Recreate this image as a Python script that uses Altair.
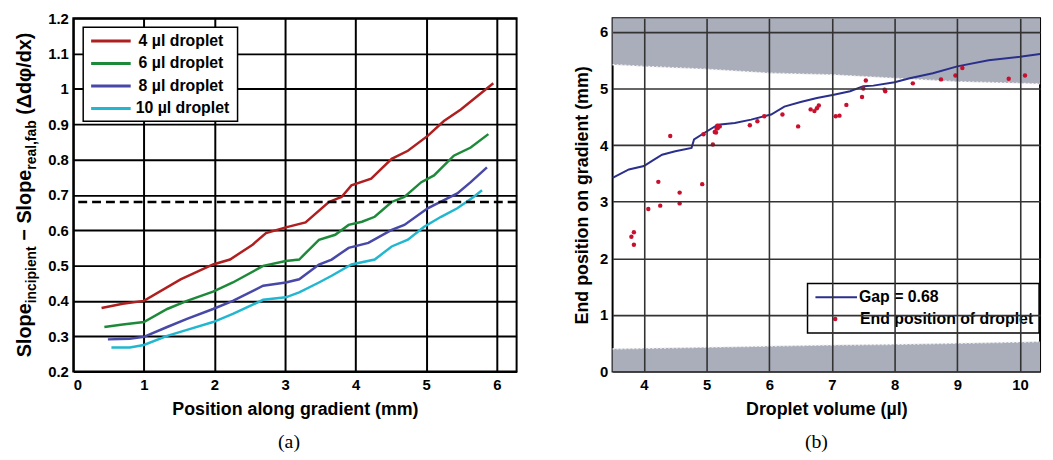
import altair as alt
import pandas as pd

FONT = "Liberation Sans"
SERIF = "Liberation Serif"

# ---------------- Panel (a) data ----------------
series_names = ["4 µl droplet", "6 µl droplet", "8 µl droplet", "10 µl droplet"]
series_colors = ["#b01f1f", "#1d8a3a", "#4848a8", "#22b7d0"]

pos_4 = [0.40, 0.70, 1.00, 1.52, 1.98, 2.22, 2.54, 2.73, 3.01, 3.29, 3.62, 3.80, 3.94, 4.22, 4.51, 4.74, 5.02, 5.25, 5.49, 5.95]
slope_4 = [0.380, 0.392, 0.400, 0.461, 0.503, 0.517, 0.559, 0.592, 0.608, 0.622, 0.680, 0.694, 0.727, 0.746, 0.802, 0.825, 0.867, 0.909, 0.942, 1.016]

pos_6 = [0.44, 0.70, 1.00, 1.33, 1.61, 1.98, 2.26, 2.69, 3.01, 3.20, 3.48, 3.71, 3.90, 4.09, 4.27, 4.51, 4.69, 4.93, 5.11, 5.39, 5.63, 5.88]
slope_6 = [0.326, 0.333, 0.340, 0.377, 0.400, 0.426, 0.452, 0.499, 0.513, 0.517, 0.573, 0.587, 0.615, 0.624, 0.638, 0.680, 0.694, 0.736, 0.755, 0.811, 0.834, 0.872]

pos_8 = [0.49, 0.80, 1.00, 1.33, 1.61, 1.98, 2.26, 2.69, 3.01, 3.20, 3.48, 3.66, 3.90, 4.18, 4.51, 4.69, 5.02, 5.25, 5.44, 5.63, 5.86]
slope_8 = [0.291, 0.293, 0.298, 0.326, 0.349, 0.377, 0.400, 0.443, 0.452, 0.461, 0.503, 0.517, 0.550, 0.564, 0.601, 0.615, 0.662, 0.685, 0.704, 0.736, 0.778]

pos_10 = [0.54, 0.80, 1.00, 1.33, 1.61, 1.98, 2.26, 2.69, 3.01, 3.20, 3.48, 3.66, 3.94, 4.27, 4.51, 4.74, 4.97, 5.21, 5.44, 5.67, 5.79]
slope_10 = [0.268, 0.268, 0.275, 0.301, 0.318, 0.340, 0.363, 0.403, 0.410, 0.424, 0.452, 0.471, 0.503, 0.517, 0.554, 0.573, 0.610, 0.638, 0.662, 0.694, 0.713]

gap_level = 0.68
x_ticks_a = [0, 1, 2, 3, 4, 5, 6]
y_ticks_a = [0.2, 0.3, 0.4, 0.5, 0.6, 0.7, 0.8, 0.9, 1.0, 1.1, 1.2]

# ---------------- Panel (b) data ----------------
vol_line = [3.50, 3.76, 4.00, 4.13, 4.29, 4.50, 4.76, 4.80, 5.00, 5.18, 5.45, 5.71, 6.03, 6.24, 6.50, 6.76, 7.03, 7.29, 7.50, 7.66, 8.00, 8.24, 8.61, 9.00, 9.50, 10.00, 10.32]
end_line = [3.42, 3.57, 3.63, 3.72, 3.83, 3.89, 3.95, 4.10, 4.24, 4.36, 4.39, 4.45, 4.54, 4.68, 4.76, 4.83, 4.89, 4.95, 5.04, 5.05, 5.11, 5.18, 5.27, 5.39, 5.50, 5.56, 5.61]

vol_pts = [3.80, 3.84, 3.84, 4.07, 4.23, 4.26, 4.42, 4.57, 4.57, 4.93, 4.95, 5.10, 5.13, 5.15, 5.16, 5.17, 5.18, 5.21,
           5.69, 5.81, 5.92, 6.21, 6.46, 6.66, 6.72, 6.76, 6.79, 7.06, 7.12, 7.23, 7.48, 7.50, 7.54, 7.84, 7.85,
           8.29, 8.74, 8.97, 9.08, 9.82, 10.08]
end_pts = [2.38, 2.46, 2.24, 2.87, 3.35, 2.93, 4.16, 3.16, 2.97, 3.31, 4.19, 4.01, 4.23, 4.22, 4.29, 4.34, 4.30, 4.33,
           4.35, 4.42, 4.51, 4.54, 4.33, 4.63, 4.60, 4.65, 4.70, 4.51, 4.52, 4.71, 4.85, 5.00, 5.14, 4.98, 4.95,
           5.09, 5.16, 5.23, 5.36, 5.17, 5.23]

band_vol = [3.5, 4.0, 5.0, 6.0, 7.0, 8.0, 9.0, 10.0, 10.32]
upper_edge = [5.42, 5.39, 5.34, 5.27, 5.24, 5.18, 5.12, 5.09, 5.08]
lower_edge = [0.40, 0.41, 0.43, 0.45, 0.47, 0.48, 0.50, 0.52, 0.53]

x_ticks_b = [4, 5, 6, 7, 8, 9, 10]
y_ticks_b = [0, 1, 2, 3, 4, 5, 6]
y_domain_b = [0, 6.24]
x_domain_b = [3.5, 10.32]

# ---------------- tables ----------------
frames = []
for name, xs, ys in zip(series_names, [pos_4, pos_6, pos_8, pos_10], [slope_4, slope_6, slope_8, slope_10]):
    frames.append(pd.DataFrame({"pos": xs, "slope": ys, "series": name}))
df_a = pd.concat(frames, ignore_index=True)

df_line = pd.DataFrame({"vol": vol_line, "end": end_line})
df_pts = pd.DataFrame({"vol": vol_pts, "end": end_pts})
df_band = pd.DataFrame({"vol": band_vol, "up": upper_edge, "low": lower_edge,
                        "top": y_domain_b[1], "bottom": y_domain_b[0]})
one = pd.DataFrame({"a": [0]})

W_A, H = 448, 357
W_B = 432

# ---------------- Panel (a) ----------------
xs_a = alt.Scale(domain=[0, 6.28], nice=False)
ys_a = alt.Scale(domain=[0.2, 1.2], nice=False)
axis_ya = alt.Axis(values=y_ticks_a, format=".1~f", title=None,
                   grid=True, gridColor="black", gridWidth=2, labelPadding=5)
x_a = alt.X("pos:Q", scale=xs_a,
            axis=alt.Axis(values=x_ticks_a, format="d", title="Position along gradient (mm)",
                          grid=True, gridColor="black", gridWidth=2, labelPadding=6, titlePadding=8))
y_a = alt.Y("slope:Q", scale=ys_a, axis=axis_ya)

lines_a = alt.Chart(df_a).mark_line(strokeWidth=2.5).encode(
    x=x_a, y=y_a,
    color=alt.Color("series:N", scale=alt.Scale(domain=series_names, range=series_colors), legend=None),
    detail="series:N",
)

gap_rule = alt.Chart(one).mark_rule(color="black", strokeWidth=2.5, strokeDash=[9, 5]).encode(
    y=alt.YDatum(gap_level, type="quantitative", scale=ys_a, axis=axis_ya)
)

legend_a = [alt.Chart(one).mark_rect(fill="white", stroke="black", strokeWidth=1.5).encode(
    x=alt.value(10), x2=alt.value(166), y=alt.value(9), y2=alt.value(104))]
for i, (name, col) in enumerate(zip(series_names, series_colors)):
    yy = 23 + i * 22.7
    legend_a.append(alt.Chart(one).mark_rule(color=col, strokeWidth=3).encode(
        x=alt.value(18), x2=alt.value(58), y=alt.value(yy)))
    legend_a.append(alt.Chart(one).mark_text(text=name, align="left", baseline="middle", font=FONT,
                                             fontWeight="bold", fontSize=16, color="black").encode(
        x=alt.value(66 if i < 3 else 63), y=alt.value(yy)))

# rotated y title with subscripts
pieces = [("Slope", 20, 0.0), ("incipient", 14, 54.5), ("−", 20, 117.7), ("Slope", 20, 135.0),
          ("real,fab", 14, 189.5), ("(Δdφ/dx)", 20, 244.9)]
title_bottom = 342.5
ytitle = []
for txt, fs, off in pieces:
    ytitle.append(alt.Chart(one).mark_text(text=txt, angle=270, align="left", baseline="alphabetic",
                                           font=FONT, fontWeight="bold", fontSize=fs, color="black").encode(
        x=alt.value(-43 if fs == 20 else -37.5), y=alt.value(title_bottom - off)))

left = alt.layer(lines_a, gap_rule, *legend_a, *ytitle).properties(
    width=W_A, height=H,
    title=alt.TitleParams("(a)", orient="bottom", anchor="middle", font=SERIF, fontSize=20,
                          fontWeight="normal", offset=14, dx=-6),
)

# ---------------- Panel (b) ----------------
xs_b = alt.Scale(domain=x_domain_b, nice=False)
ys_b = alt.Scale(domain=y_domain_b, nice=False)
axis_xb = alt.Axis(values=x_ticks_b, format="d", title="Droplet volume (µl)", grid=True,
                   gridColor="#333333", gridWidth=1.6, labelPadding=6, titlePadding=8, zindex=1)
axis_yb = alt.Axis(values=y_ticks_b, format="d", title="End position on gradient (mm)", grid=True,
                   gridColor="#333333", gridWidth=1.6, labelPadding=5, titlePadding=8, zindex=1)


def xb(field):
    return alt.X(field, scale=xs_b, axis=axis_xb)


def yb(field):
    return alt.Y(field, scale=ys_b, axis=axis_yb)


gray = "#aaaeba"
upper_band = alt.Chart(df_band).mark_area(color=gray, opacity=1).encode(
    x=xb("vol:Q"), y=yb("up:Q"), y2="top:Q")
lower_band = alt.Chart(df_band).mark_area(color=gray, opacity=1).encode(
    x=xb("vol:Q"), y=yb("bottom:Q"), y2="low:Q")
upper_edge_line = alt.Chart(df_band).mark_line(color="#f2f2f2", strokeWidth=1.5, strokeDash=[2, 2]).encode(
    x=xb("vol:Q"), y=yb("up:Q"))
lower_edge_line = alt.Chart(df_band).mark_line(color="#f2f2f2", strokeWidth=1.5, strokeDash=[2, 2]).encode(
    x=xb("vol:Q"), y=yb("low:Q"))

gap_line = alt.Chart(df_line).mark_line(color="#2b2f8c", strokeWidth=2).encode(
    x=xb("vol:Q"), y=yb("end:Q"))
end_points = alt.Chart(df_pts).mark_circle(color="#c8102e", size=20, opacity=1).encode(
    x=xb("vol:Q"), y=yb("end:Q"))

legend_b = [
    alt.Chart(one).mark_rect(fill="white", stroke="black", strokeWidth=1.5).encode(
        x=alt.value(197), x2=alt.value(431), y=alt.value(268), y2=alt.value(318)),
    alt.Chart(one).mark_rule(color="#2b2f8c", strokeWidth=2).encode(
        x=alt.value(205), x2=alt.value(247), y=alt.value(282)),
    alt.Chart(one).mark_circle(color="#c8102e", size=20, opacity=1).encode(
        x=alt.value(225), y=alt.value(304)),
    alt.Chart(one).mark_text(text="Gap = 0.68", align="left", baseline="middle", font=FONT,
                             fontWeight="bold", fontSize=16, color="black").encode(
        x=alt.value(249), y=alt.value(282)),
    alt.Chart(one).mark_text(text="End position of droplet", align="left", baseline="middle", font=FONT,
                             fontWeight="bold", fontSize=16, color="black").encode(
        x=alt.value(250), y=alt.value(304)),
]

right = alt.layer(upper_band, lower_band, upper_edge_line, lower_edge_line, gap_line, end_points,
                  *legend_b).properties(
    width=W_B, height=H,
    title=alt.TitleParams("(b)", orient="bottom", anchor="middle", font=SERIF, fontSize=20,
                          fontWeight="normal", offset=14, dx=-10),
)

chart = alt.hconcat(left, right, spacing=53).properties(
    padding={"left": 5, "top": 0, "right": 0, "bottom": 0}
).configure_view(stroke="black", strokeWidth=2).configure_axis(
    labelFont=FONT, titleFont=FONT, labelFontSize=15, titleFontSize=18,
    labelFontWeight="bold", titleFontWeight="bold", labelColor="black", titleColor="black",
    ticks=False, domain=False,
).configure_title(font=SERIF, fontSize=20, fontWeight="normal", color="black")

chart.save("out.html", embed_options={"renderer": "svg", "actions": False})
